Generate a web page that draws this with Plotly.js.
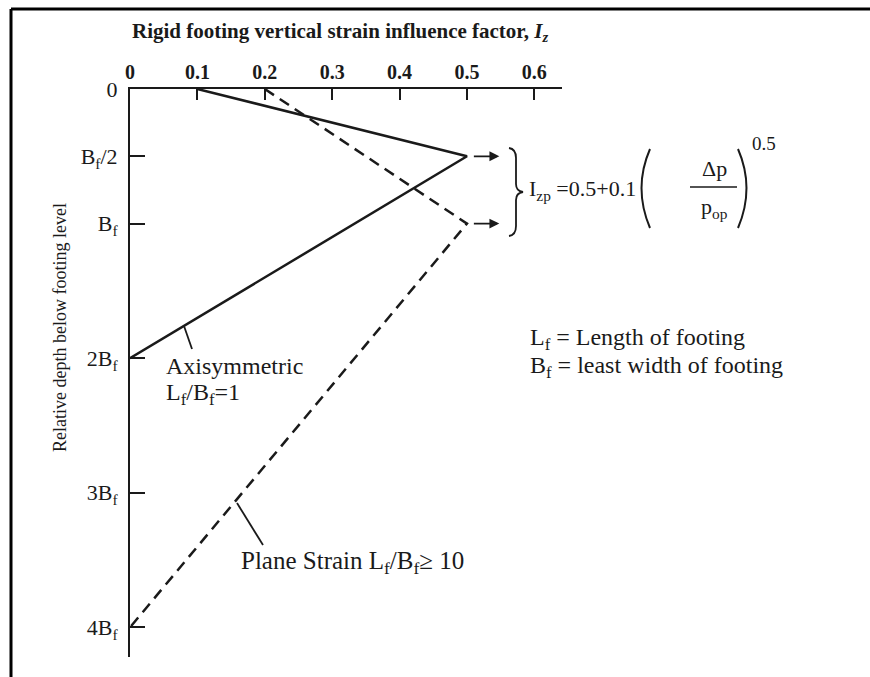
<!DOCTYPE html>
<html>
<head>
<meta charset="utf-8">
<script src="https://cdn.plot.ly/plotly-3.0.1.min.js"></script>
<style>
  html, body { margin: 0; padding: 0; background: #fff; }
  #chart { width: 870px; height: 677px; }
</style>
</head>
<body>
<div id="chart"></div>
<script>
// Strain influence factor profiles below a rigid footing
const axisymIz = [0.1, 0.5, 0];
const axisymDepth = [0, 0.5, 2];
const planeIz = [0.2, 0.5, 0];
const planeDepth = [0, 1, 4];
const izTicks = [0, 0.1, 0.2, 0.3, 0.4, 0.5, 0.6];
const izTickLabels = ['0', '0.1', '0.2', '0.3', '0.4', '0.5', '0.6'];
const depthTicks = [0, 0.5, 1, 2, 3, 4];
const depthTickLabels = ['0', 'B<sub>f</sub>/2', 'B<sub>f</sub>', '2B<sub>f</sub>', '3B<sub>f</sub>', '4B<sub>f</sub>'];

// plot box in pixels
const L = 130, T = 89, W = 432, H = 568;
const FIG_W = 870, FIG_H = 677;
const px = x => (x - L) / W;
const py = y => 1 - (y - T) / H;

const FONT = 'Liberation Serif, Times New Roman, serif';
const INK = '#1a1a1a';

const traces = [
  {
    x: axisymIz, y: axisymDepth, mode: 'lines', type: 'scatter',
    line: { color: INK, width: 2.5 }, hoverinfo: 'skip', cliponaxis: false
  },
  {
    x: planeIz, y: planeDepth, mode: 'lines', type: 'scatter',
    line: { color: INK, width: 2.5, dash: '11px,7px' }, hoverinfo: 'skip', cliponaxis: false
  }
];

function label(text, x, y, opts) {
  return Object.assign({
    text: text, xref: 'paper', yref: 'paper', x: px(x), y: py(y),
    xanchor: 'left', yanchor: 'middle', showarrow: false,
    font: { family: FONT, size: 24, color: INK }
  }, opts || {});
}

function pathPx(cmds) {
  // converts a pixel path into a paper-referenced path string
  return cmds.map(c => {
    if (typeof c === 'string') return c;
    return px(c[0]) + ',' + py(c[1]);
  }).join(' ');
}

const annotations = [
  label('<b>Rigid footing vertical strain influence factor, <i>I<sub>z</sub></i></b>', 340, 32,
    { xanchor: 'center', font: { family: FONT, size: 21, color: INK } }),
  label('Relative depth below footing level', 60, 328,
    { xanchor: 'center', textangle: -90, font: { family: FONT, size: 18, color: INK } }),
  // arrows from the peak values toward the expression
  { x: 0.548, y: 0.5, ax: 0.508, ay: 0.5, xref: 'x', yref: 'y', axref: 'x', ayref: 'y',
    text: '', showarrow: true, arrowhead: 2, arrowsize: 1.1, arrowwidth: 1.8, arrowcolor: INK },
  { x: 0.548, y: 1, ax: 0.508, ay: 1, xref: 'x', yref: 'y', axref: 'x', ayref: 'y',
    text: '', showarrow: true, arrowhead: 2, arrowsize: 1.1, arrowwidth: 1.8, arrowcolor: INK },
  // peak factor expression
  label('I<sub>zp</sub> =0.5+0.1', 527, 190, { font: { family: FONT, size: 22, color: INK } }),
  label('Δp', 714, 168, { xanchor: 'center', font: { family: FONT, size: 22, color: INK } }),
  label('p<sub>op</sub>', 714, 208, { xanchor: 'center', font: { family: FONT, size: 22, color: INK } }),
  label('0.5', 750, 143, { font: { family: FONT, size: 19, color: INK } }),
  // definitions
  label('L<sub>f</sub> = Length of footing', 528, 339),
  label('B<sub>f</sub> = least width of footing', 528, 367),
  // curve labels
  label('Axisymmetric', 164, 366),
  label('L<sub>f</sub>/B<sub>f</sub>=1', 164, 394),
  label('Plane Strain L<sub>f</sub>/B<sub>f</sub>≥ 10', 239, 562, { font: { family: FONT, size: 25, color: INK } })
];

const lineStyle = { color: INK, width: 1.8 };
const shapes = [
  // outer frame (top and left)
  { type: 'line', xref: 'paper', yref: 'paper', x0: px(11), y0: py(9), x1: px(FIG_W), y1: py(9),
    line: { color: '#000', width: 3 } },
  { type: 'line', xref: 'paper', yref: 'paper', x0: px(11), y0: py(9), x1: px(11), y1: py(FIG_H),
    line: { color: '#000', width: 3 } },
  // curly brace
  { type: 'path', xref: 'paper', yref: 'paper', line: lineStyle,
    path: pathPx(['M', [509, 148], 'Q', [516, 149], [516, 158], 'L', [516, 184], 'Q', [516, 191], [523, 192],
      'Q', [516, 193], [516, 200], 'L', [516, 226], 'Q', [516, 235], [509, 236]]) },
  // parentheses and fraction bar
  { type: 'path', xref: 'paper', yref: 'paper', line: { color: INK, width: 2 },
    path: pathPx(['M', [650, 149], 'Q', [633, 188], [650, 228]]) },
  { type: 'path', xref: 'paper', yref: 'paper', line: { color: INK, width: 2 },
    path: pathPx(['M', [738, 149], 'Q', [755, 188], [738, 228]]) },
  { type: 'line', xref: 'paper', yref: 'paper', x0: px(690), y0: py(187), x1: px(737), y1: py(187),
    line: { color: INK, width: 1.5 } },
  // leader lines to the curves
  { type: 'line', xref: 'paper', yref: 'paper', x0: px(192), y0: py(349), x1: px(184), y1: py(326),
    line: lineStyle },
  { type: 'line', xref: 'paper', yref: 'paper', x0: px(263), y0: py(545), x1: px(237), y1: py(503),
    line: lineStyle }
];

const layout = {
  width: FIG_W, height: FIG_H,
  margin: { l: L, r: FIG_W - L - W, t: T, b: FIG_H - T - H, pad: 0 },
  paper_bgcolor: '#fff', plot_bgcolor: '#fff',
  showlegend: false,
  font: { family: FONT, color: INK },
  xaxis: {
    side: 'top', range: [0, 0.641], showgrid: false, zeroline: false,
    showline: true, linecolor: INK, linewidth: 2,
    ticks: 'inside', ticklen: 11, tickwidth: 2, tickcolor: INK,
    tickvals: izTicks, ticktext: izTickLabels.map(t => '<b>' + t + '</b>'),
    tickfont: { family: FONT, size: 20, color: INK }, fixedrange: true
  },
  yaxis: {
    range: [4.22, 0], showgrid: false, zeroline: false,
    showline: true, linecolor: INK, linewidth: 2,
    ticks: 'inside', ticklen: 15, tickwidth: 2, tickcolor: INK,
    tickvals: depthTicks, ticktext: depthTickLabels,
    tickfont: { family: FONT, size: 22, color: INK }, ticklabelstandoff: 6, fixedrange: true
  },
  annotations: annotations,
  shapes: shapes
};

Plotly.newPlot('chart', traces, layout, { staticPlot: true, displayModeBar: false });
</script>
</body>
</html>
